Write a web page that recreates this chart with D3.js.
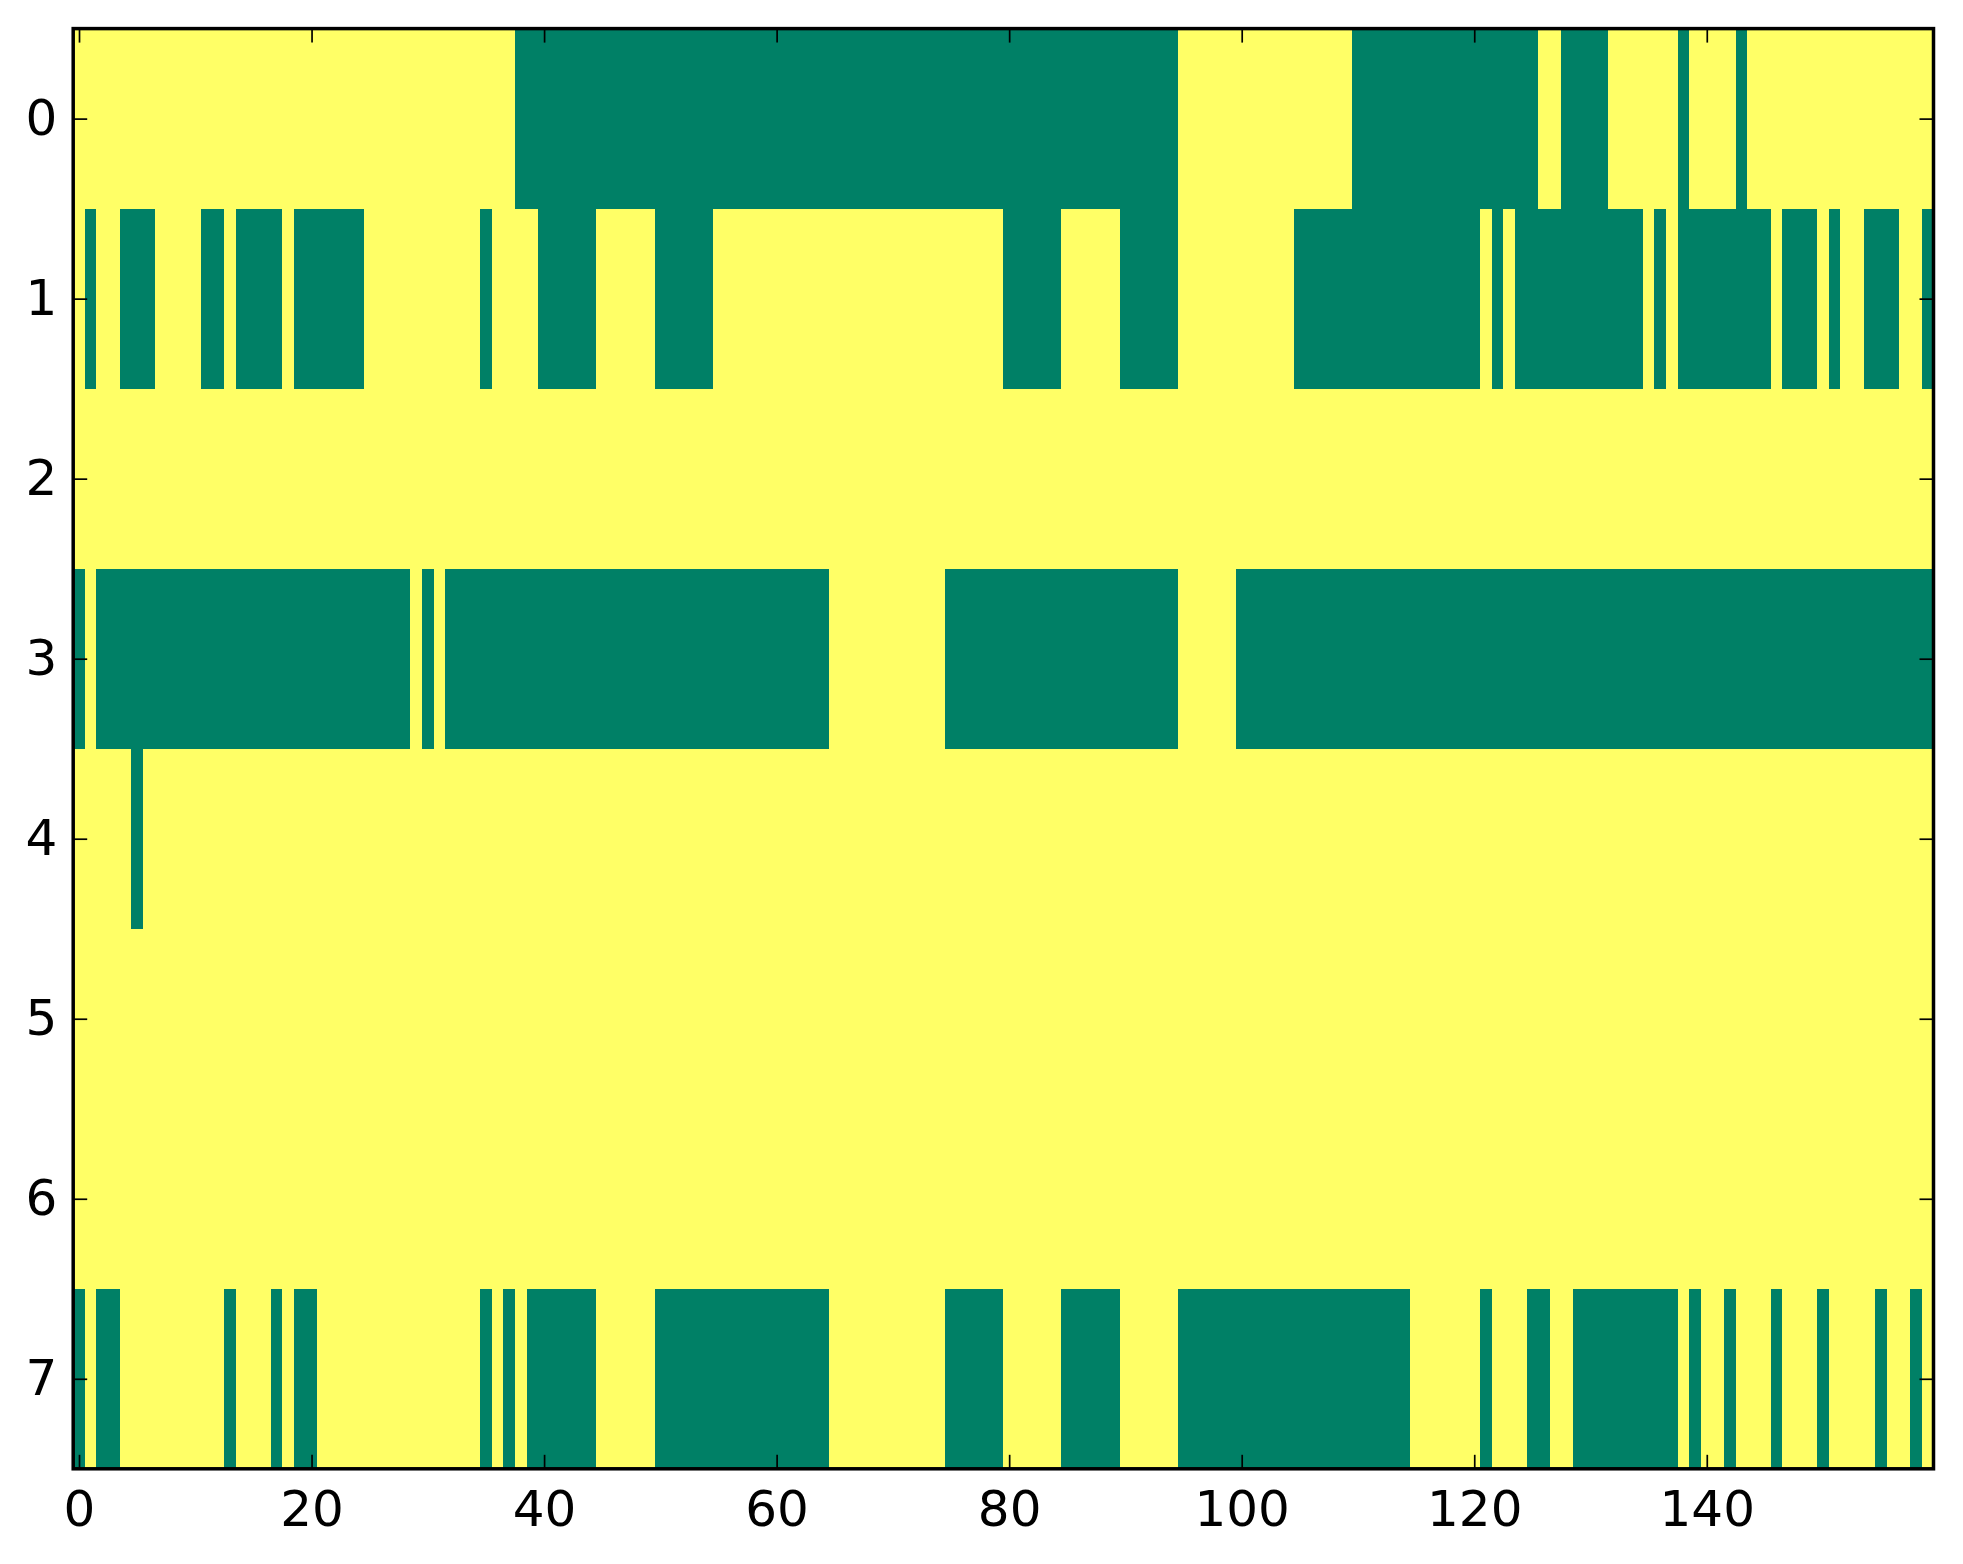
<!DOCTYPE html>
<html>
<head>
<meta charset="utf-8">
<script src="https://cdn.jsdelivr.net/npm/d3@7"></script>
<style>
  body { margin: 0; background: #fff; }
  svg { display: block; }
  text { font-family: "DejaVu Sans", sans-serif; }
</style>
</head>
<body>
<svg id="chart" width="1963" height="1564"></svg>
<script>
// green runs (value 0) per row, inclusive column ranges; every other cell is 1
var row0 = [[38, 94], [110, 125], [128, 131], [138, 138], [143, 143]]
var row1 = [[1, 1], [4, 6], [11, 12], [14, 17], [19, 24], [35, 35], [40, 44], [50, 54],
            [80, 84], [90, 94], [105, 120], [122, 122], [124, 134], [136, 136],
            [138, 145], [147, 149], [151, 151], [154, 156], [159, 159]]
var row2 = []
var row3 = [[0, 0], [2, 28], [30, 30], [32, 64], [75, 94], [100, 159]]
var row4 = [[5, 5]]
var row5 = []
var row6 = []
var row7 = [[0, 0], [2, 3], [13, 13], [17, 17], [19, 20], [35, 35], [37, 37], [39, 44],
            [50, 64], [75, 79], [85, 89], [95, 114], [121, 121], [125, 126], [129, 137],
            [139, 139], [142, 142], [146, 146], [150, 150], [155, 155], [158, 158]]

var nCols = 160
var xTicks = [0, 20, 40, 60, 80, 100, 120, 140]
var yTicks = [0, 1, 2, 3, 4, 5, 6, 7]

var rows = [row0, row1, row2, row3, row4, row5, row6, row7]

// build the matrix
var cells = []
rows.forEach(function (runs, r) {
  for (var c = 0; c < nCols; c++) {
    var v = 1
    runs.forEach(function (run) { if (c >= run[0] && c <= run[1]) v = 0 })
    cells.push({ row: r, col: c, value: v })
  }
})

var plotL = 73.2, plotR = 1933.5, plotT = 28.6, plotB = 1468.8

var svg = d3.select('#chart')

var x = d3.scaleBand().domain(d3.range(nCols)).range([plotL, plotR]).paddingInner(0).paddingOuter(0)
var y = d3.scaleBand().domain(yTicks).range([plotT, plotB]).paddingInner(0).paddingOuter(0)
var xLin = d3.scaleLinear().domain([-0.5, nCols - 0.5]).range([plotL, plotR])
var yLin = d3.scaleLinear().domain([-0.5, 7.5]).range([plotT, plotB])

// summer colormap ends
var color = d3.scaleOrdinal().domain([0, 1]).range(['#008066', '#ffff66'])

svg.append('g')
   .attr('id', 'cells')
   .attr('shape-rendering', 'crispEdges')
   .selectAll('rect')
   .data(cells)
   .enter()
   .append('rect')
   .attr('x', d => x(d.col))
   .attr('y', d => y(d.row))
   .attr('width', x.bandwidth() + 0.5)
   .attr('height', y.bandwidth() + 0.5)
   .attr('fill', d => color(d.value))

var tickLen = 14

var styleAxis = function (g) {
  g.select('.domain').remove()
  g.selectAll('.tick line').attr('stroke', '#000').attr('stroke-width', 1.7)
  g.selectAll('text')
   .attr('fill', '#000')
   .style('font-size', '50px')
   .style('font-family', '"DejaVu Sans", sans-serif')
}

svg.append('g')
   .attr('transform', 'translate(0,' + plotB + ')')
   .call(d3.axisBottom(xLin).tickValues(xTicks).tickSizeInner(-tickLen).tickSizeOuter(0).tickPadding(22))
   .call(styleAxis)

svg.append('g')
   .attr('transform', 'translate(0,' + plotT + ')')
   .call(d3.axisTop(xLin).tickValues(xTicks).tickSizeInner(-tickLen).tickSizeOuter(0).tickFormat(''))
   .call(styleAxis)

svg.append('g')
   .attr('transform', 'translate(' + plotL + ',0)')
   .call(d3.axisLeft(yLin).tickValues(yTicks).tickSizeInner(-tickLen).tickSizeOuter(0).tickPadding(16))
   .call(styleAxis)

svg.append('g')
   .attr('transform', 'translate(' + plotR + ',0)')
   .call(d3.axisRight(yLin).tickValues(yTicks).tickSizeInner(-tickLen).tickSizeOuter(0).tickFormat(''))
   .call(styleAxis)

// frame
svg.append('rect')
   .attr('x', plotL)
   .attr('y', plotT)
   .attr('width', plotR - plotL)
   .attr('height', plotB - plotT)
   .attr('fill', 'none')
   .attr('stroke', '#000')
   .attr('stroke-width', 3.5)
</script>
</body>
</html>
